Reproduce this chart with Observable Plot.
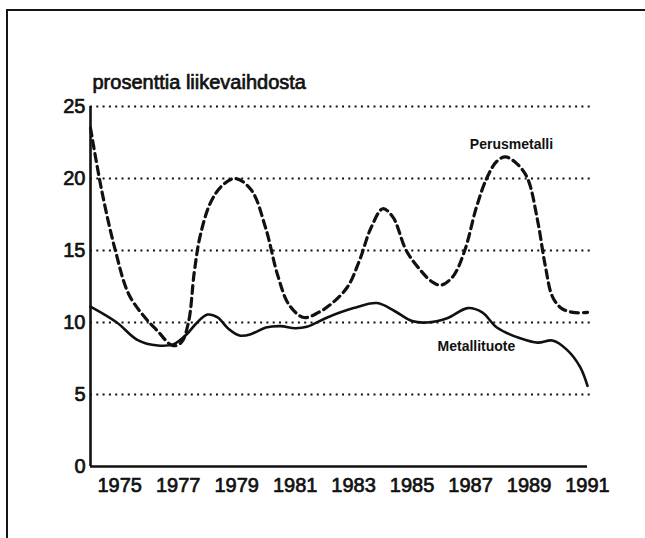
<!DOCTYPE html>
<html><head><meta charset="utf-8">
<script src="https://cdn.jsdelivr.net/npm/d3@7"></script>
<script src="https://cdn.jsdelivr.net/npm/@observablehq/plot@0.6"></script>
<style>
html,body{margin:0;padding:0;background:#fff;overflow:hidden;}
#wrap{position:relative;width:645px;height:538px;overflow:hidden;background:#fff;}
#frameTop{position:absolute;left:6px;top:9px;width:639px;height:0;border-top:2.5px solid #151515;}
#frameLeft{position:absolute;left:6px;top:9px;width:0;height:529px;border-left:2.5px solid #151515;}
#chart{position:absolute;left:0;top:0;}
</style></head><body>
<div id="wrap"><div id="frameTop"></div><div id="frameLeft"></div><div id="chart"></div></div>
<script>
const title = "prosenttia liikevaihdosta";
const yTicks = [0, 5, 10, 15, 20, 25];
const gridValues = [5, 10, 15, 20, 25];
const xTicks = [1975, 1977, 1979, 1981, 1983, 1985, 1987, 1989, 1991];

const perusYears = [1974.0, 1974.4, 1974.85, 1975.3, 1975.8, 1976.3, 1976.8, 1977.1, 1977.35, 1977.55, 1977.75, 1978.1, 1978.5, 1978.95, 1979.5, 1980.0, 1980.4, 1980.8, 1981.3, 1981.8, 1982.3, 1982.8, 1983.2, 1983.6, 1984.0, 1984.35, 1984.8, 1985.3, 1985.7, 1986.0, 1986.4, 1986.8, 1987.2, 1987.55, 1987.9, 1988.2, 1988.6, 1988.95, 1989.3, 1989.55, 1989.8, 1990.1, 1990.5, 1991.0];
const perusValues = [23.5, 19.0, 15.0, 12.0, 10.5, 9.4, 8.4, 8.6, 10.0, 13.5, 16.0, 18.3, 19.5, 20.0, 19.2, 16.5, 13.3, 11.2, 10.35, 10.7, 11.4, 12.5, 14.3, 16.6, 17.9, 17.3, 15.0, 13.6, 12.8, 12.6, 13.2, 15.0, 18.0, 20.0, 21.2, 21.5, 21.0, 20.0, 17.0, 14.0, 11.8, 11.0, 10.7, 10.7];

const metalliYears = [1974.0, 1974.9, 1975.6, 1976.3, 1976.85, 1977.3, 1977.6, 1978.0, 1978.35, 1978.7, 1979.1, 1979.5, 1980.0, 1980.5, 1981.0, 1981.4, 1982.1, 1983.0, 1983.8, 1984.4, 1985.0, 1985.5, 1986.2, 1986.9, 1987.4, 1987.9, 1988.7, 1989.3, 1989.8, 1990.3, 1990.75, 1991.0];
const metalliValues = [11.1, 10.0, 8.8, 8.4, 8.5, 9.2, 9.9, 10.55, 10.35, 9.6, 9.1, 9.2, 9.65, 9.75, 9.6, 9.7, 10.35, 11.0, 11.35, 10.8, 10.1, 10.0, 10.3, 11.0, 10.7, 9.65, 8.9, 8.6, 8.75, 8.1, 6.9, 5.6];

const seriesNames = ["Perusmetalli", "Metallituote"];
const labelYears = [1988.4, 1987.2];
const labelValues = [22.35, 8.35];

const perus = perusYears.map((x, i) => ({x, y: perusValues[i]}));
const metalli = metalliYears.map((x, i) => ({x, y: metalliValues[i]}));
const labels = seriesNames.map((name, i) => ({name, x: labelYears[i], y: labelValues[i]}));

const ink = "#111";
const chart = Plot.plot({
  width: 645,
  height: 538,
  marginLeft: 90,
  marginRight: 58,
  marginTop: 106,
  marginBottom: 72,
  style: {fontFamily: "'Liberation Sans', Arial, sans-serif", fontSize: "20px", color: ink, background: "transparent", overflow: "visible"},
  x: {domain: [1974, 1991], axis: null},
  y: {domain: [0, 25], axis: null},
  marks: [
    Plot.ruleY(gridValues, {x1: 1974, x2: 1991.1, stroke: ink, strokeWidth: 2, strokeDasharray: "2,4.3"}),
    Plot.axisY(yTicks, {tickSize: 0, tickPadding: 5, fontSize: 20, letterSpacing: -0.6, fill: ink, textStroke: ink, textStrokeWidth: 0.7, label: null}),
    Plot.axisX(xTicks, {tickSize: 0, tickPadding: 11, fontSize: 20, letterSpacing: -0.8, fill: ink, textStroke: ink, textStrokeWidth: 0.7, tickFormat: d => `${d}`, label: null}),
    Plot.ruleY([0], {x1: 1974, x2: 1991, stroke: ink, strokeWidth: 2.6}),
    Plot.ruleX([1974], {y1: 0, y2: 25, stroke: ink, strokeWidth: 2.6}),
    Plot.line(perus, {x: "x", y: "y", curve: "catmull-rom", stroke: ink, strokeWidth: 3.2, strokeDasharray: "8,5"}),
    Plot.line(metalli, {x: "x", y: "y", curve: "catmull-rom", stroke: ink, strokeWidth: 2.6}),
    Plot.text(labels, {x: "x", y: "y", text: "name", fontSize: 14, fontWeight: "bold", fill: ink, letterSpacing: -0.2}),
    Plot.text([title], {frameAnchor: "top-left", dx: 2, dy: -24.4, textAnchor: "start", lineAnchor: "middle", fontSize: 20, letterSpacing: -0.4, fill: ink, stroke: ink, strokeWidth: 0.7})
  ]
});
document.getElementById("chart").appendChild(chart);
</script>
</body></html>
